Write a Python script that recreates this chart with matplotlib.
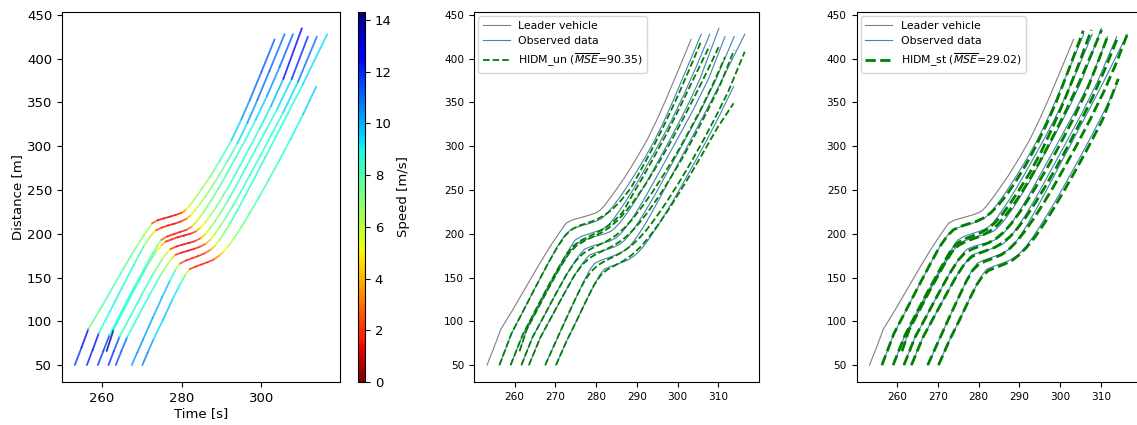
import numpy as np
import matplotlib
matplotlib.use('Agg')
import matplotlib.pyplot as plt
from matplotlib.collections import LineCollection
from matplotlib.colors import Normalize

# leader vehicle trajectory (time [s], distance [m])
leader_t = [253.2, 254.9, 256.6, 259.5, 262.5, 265.5, 268.5, 270.5, 271.7, 272.6, 274.0, 275.5, 277.0,
            278.5, 280.0, 281.0, 282.0, 283.3, 285.0, 287.1, 289.5, 292.5, 295.0, 297.1, 300.0, 303.3]
leader_d = [50, 70, 91, 113, 137, 161, 184, 198, 206, 212, 215.5, 217.5, 219.5,
            221.5, 224, 227, 232, 240, 251, 265, 283, 307, 331, 353, 385, 422]

# observed followers
obs_t = [
    [256.25, 257.7, 259.2, 262.0, 265.0, 268.0, 270.4, 272.2, 273.6, 275.0, 276.6, 278.2, 279.8,
     281.2, 282.2, 283.3, 284.6, 286.0, 287.6, 289.4, 291.5, 294.0, 296.5, 299.0, 302.0, 305.8],
    [259.0, 260.4, 261.9, 264.8, 267.8, 270.6, 272.8, 274.0, 274.9, 276.4, 278.0, 279.6, 281.2,
     282.5, 283.5, 284.6, 285.9, 287.4, 289.2, 291.2, 293.5, 296.0, 298.6, 301.4, 304.6, 307.9],
    [261.2, 262.9, 265.5, 268.4, 271.2, 273.6, 275.0, 276.0, 277.5, 279.0, 280.6, 282.2, 283.7,
     284.7, 285.9, 287.2, 288.7, 290.4, 292.4, 294.6, 297.0, 299.6, 302.4, 305.5, 310.15],
    [261.65, 263.0, 264.4, 267.2, 270.0, 272.8, 275.0, 276.3, 277.2, 278.7, 280.2, 281.8, 283.3,
     284.8, 285.9, 287.1, 288.4, 289.9, 291.6, 293.6, 295.9, 298.4, 301.1, 304.0, 307.6, 311.65],
    [263.5, 264.9, 266.3, 269.1, 271.9, 274.6, 276.6, 277.7, 278.5, 280.0, 281.5, 283.0, 284.5,
     286.0, 287.1, 288.3, 289.6, 291.1, 292.8, 294.8, 297.1, 299.7, 302.5, 305.5, 309.2, 313.9],
    [267.5, 268.9, 270.3, 272.7, 275.1, 277.0, 278.4, 279.6, 281.1, 282.6, 284.1, 285.7, 287.2,
     288.3, 289.5, 290.8, 292.3, 294.0, 296.0, 298.3, 300.9, 303.7, 306.7, 310.4, 316.5],
    [270.15, 271.5, 272.85, 275.3, 277.6, 279.5, 280.9, 282.0, 283.5, 285.0, 286.5, 288.0, 289.3,
     290.4, 291.7, 293.2, 295.0, 297.0, 299.3, 301.8, 304.5, 307.4, 310.5, 313.75],
]
obs_d = [
    [50, 67.5, 86, 111, 138, 164.5, 185, 197.5, 204, 207, 209.5, 211.5, 214,
     217, 221, 226.5, 234, 243, 254, 267, 283, 303.5, 327, 353, 386, 428],
    [50, 66.5, 84, 110, 136.5, 160, 178, 187, 193, 197, 199.5, 202, 204.5,
     208, 212.5, 219, 227.5, 238, 251.5, 267.5, 286.5, 307.5, 330.5, 357.5, 391, 428],
    [66, 90, 113, 138.5, 162, 180, 187, 191, 193.5, 196, 198, 200, 203,
     207, 213, 221, 231, 243.5, 259, 277.5, 298, 320.5, 346, 377, 434.8],
    [50, 66, 82, 106, 130.5, 154, 170, 178, 182.5, 185.5, 187.5, 189.5, 191.5,
     195, 199.5, 206, 214.5, 225, 238, 254.5, 274, 295, 318, 343, 377, 425.2],
    [50, 66, 81.5, 105.5, 129.5, 152, 166, 172.5, 176, 178.5, 180.5, 182.5, 185,
     188.5, 193, 199.5, 208, 218.5, 231.5, 247.5, 267, 289, 313, 339, 374, 425.2],
    [50, 64.5, 79, 103.5, 127.5, 146, 158.5, 166, 169.5, 172, 174.5, 177.5, 181.5,
     186, 193, 202, 213, 227, 244, 264, 287, 311.5, 338, 371, 428],
    [50, 64.5, 78.5, 101.5, 124, 141.5, 153, 159.5, 162.5, 165, 167.5, 170.5, 174.5,
     179, 186, 195.5, 208, 223, 241, 261.5, 284, 309, 337, 368.1],
]

# HIDM_un simulated followers
un_t = [
    [256.25, 259.2, 262.0, 265.0, 268.0, 270.5, 272.5, 274.2, 276.0, 278.0, 280.0, 282.0, 284.0,
     286.0, 288.5, 291.0, 294.0, 297.0, 300.0, 303.0, 305.8],
    [259.0, 261.9, 264.8, 267.8, 270.6, 272.8, 274.5, 276.5, 278.5, 280.5, 282.5, 284.5, 286.5,
     289.0, 291.5, 294.5, 297.5, 300.5, 303.5, 307.9],
    [261.2, 262.9, 265.5, 268.4, 271.2, 273.4, 275.2, 277.2, 279.2, 281.2, 283.2, 285.2, 287.2,
     289.7, 292.2, 295.2, 298.2, 301.2, 304.2, 307.2, 310.15],
    [261.65, 264.4, 267.2, 270.0, 272.8, 275.0, 276.8, 278.8, 280.8, 282.8, 284.8, 286.8, 288.8,
     291.3, 293.8, 296.8, 299.8, 302.8, 305.8, 308.8, 311.65],
    [263.5, 266.3, 269.1, 271.9, 274.6, 276.6, 278.3, 280.3, 282.3, 284.3, 286.3, 288.3, 290.3,
     292.8, 295.3, 298.3, 301.3, 304.3, 307.3, 310.3, 313.9],
    [267.5, 270.3, 272.7, 275.1, 277.0, 278.7, 280.4, 282.4, 284.4, 286.4, 288.4, 290.4, 292.4,
     294.9, 297.4, 300.4, 303.4, 306.4, 309.4, 312.4, 316.5],
    [270.15, 272.85, 275.3, 277.6, 279.5, 281.1, 282.7, 284.7, 286.7, 288.7, 290.7, 292.7, 295.2,
     297.7, 300.7, 303.7, 306.7, 309.7, 313.75],
]
un_d = [
    [50, 86, 111, 138, 164.5, 185, 198.5, 205.5, 209.5, 212.5, 216, 221, 228,
     237.5, 252, 273, 299, 327, 357, 389, 420],
    [50, 84, 110, 136.5, 160, 177, 186.5, 193, 197.5, 202, 207.5, 215, 224.5,
     245, 265, 290, 316, 344, 373, 415],
    [66, 90, 113, 138.5, 162, 178, 186.5, 192, 196.5, 201, 207, 215, 225,
     240, 257, 280, 304, 330, 357, 385, 414],
    [50, 82, 106, 130.5, 154, 169, 177.5, 183, 187.5, 192, 198, 206, 216,
     231, 247.5, 269, 292, 317, 343, 372, 402],
    [50, 81.5, 105.5, 129.5, 152, 164.5, 172, 177.5, 182, 186.5, 192.5, 200.5, 210.5,
     225.5, 242, 264, 287.5, 313, 340, 368.5, 410],
    [50, 79, 103.5, 127.5, 145, 156.5, 164, 169.5, 174, 179, 185.5, 194, 204.5,
     220, 237, 259, 282.5, 307.5, 334, 362, 408],
    [50, 78.5, 101.5, 124, 141.5, 152.5, 159, 164, 169, 175.5, 184, 194.5, 210,
     227, 249, 272, 296, 320.5, 349],
]

# HIDM_st simulated followers
st_t = [
    [256.25, 259.2, 262.0, 265.0, 268.0, 270.4, 272.3, 273.8, 275.6, 277.6, 279.6, 281.4, 283.0,
     284.8, 286.8, 289.0, 291.5, 294.0, 296.5, 299.0, 302.0, 305.7],
    [259.0, 261.9, 264.8, 267.8, 270.6, 272.8, 274.4, 276.2, 278.2, 280.2, 282.2, 284.0, 285.8,
     287.8, 290.0, 292.6, 295.4, 298.2, 301.0, 304.2, 307.7],
    [261.2, 262.9, 265.5, 268.4, 271.2, 273.4, 275.0, 276.8, 278.8, 280.8, 282.8, 284.6, 286.4,
     288.4, 290.6, 293.0, 295.8, 298.6, 301.6, 304.8, 307.6, 310.2],
    [261.65, 264.4, 267.2, 270.0, 272.8, 275.0, 276.6, 278.4, 280.4, 282.4, 284.4, 286.2, 288.0,
     290.0, 292.2, 294.7, 297.4, 300.2, 303.2, 306.4, 309.2, 311.8],
    [263.5, 266.3, 269.1, 271.9, 274.6, 276.6, 278.2, 280.0, 282.0, 284.0, 286.0, 287.8, 289.6,
     291.6, 293.8, 296.3, 299.0, 301.8, 304.8, 308.0, 311.2, 314.3],
    [267.5, 270.3, 272.7, 275.1, 277.0, 278.5, 279.9, 281.6, 283.6, 285.6, 287.4, 289.2, 291.2,
     293.4, 295.9, 298.6, 301.4, 304.4, 307.6, 310.8, 313.8, 316.6],
    [270.15, 272.85, 275.3, 277.6, 279.5, 281.0, 282.4, 284.2, 286.2, 288.2, 290.0, 291.8, 293.8,
     296.0, 298.5, 301.2, 304.0, 307.0, 310.5, 314.3],
]
st_d = [
    [50, 86, 111, 138, 164.5, 185, 197.5, 204.5, 208.5, 211.5, 214.5, 218.5, 224,
     232.5, 244, 259, 278, 299.5, 323.5, 350, 386, 432],
    [50, 84, 110, 136.5, 160, 178, 188, 193.5, 197, 200.5, 205.5, 212.5, 222,
     235, 250.5, 270, 294, 322, 352, 389, 433],
    [66, 90, 113, 138.5, 162, 179, 186.5, 191, 194.5, 198, 203, 210, 219.5,
     232, 247.5, 266, 289, 314, 342, 374, 404, 433],
    [50, 82, 106, 130.5, 154, 170, 178, 182.5, 186, 189.5, 195, 202, 211.5,
     224, 239.5, 258.5, 280, 304, 331, 362, 395, 427],
    [50, 81.5, 105.5, 129.5, 152, 166, 173.5, 177.5, 181, 184.5, 190, 197, 206.5,
     219, 234.5, 253.5, 275, 299, 326, 356, 390, 426],
    [50, 79, 103.5, 127.5, 146, 158, 164.5, 168.5, 172, 176, 182, 190.5, 202,
     216.5, 234.5, 255.5, 278.5, 304, 332.5, 363, 395, 429],
    [50, 78.5, 101.5, 124, 141.5, 152, 158, 161.5, 165, 169.5, 176, 184.5, 196,
     211, 229.5, 251, 274, 299.5, 331, 377],
]

mse_un = 90.35
mse_st = 29.02

W, H = 1137, 425
fig = plt.figure(figsize=(W / 100, H / 100), dpi=100)

y0, hgt = 43 / H, 370 / H
ax1 = fig.add_axes([62 / W, y0, 278 / W, hgt])
cax = fig.add_axes([358 / W, y0, 7 / W, hgt])
ax2 = fig.add_axes([474 / W, y0, 285 / W, hgt])
ax3 = fig.add_axes([856.5 / W, y0, 285 / W, hgt])

# ---- left: speed coloured trajectories
norm = Normalize(0, 14.3)
for t, d in [(leader_t, leader_d)] + list(zip(obs_t, obs_d)):
    t = np.array(t)
    d = np.array(d)
    pts = np.column_stack([t, d]).reshape(-1, 1, 2)
    segs = np.concatenate([pts[:-1], pts[1:]], axis=1)
    v = np.diff(d) / np.diff(t)
    lc = LineCollection(segs, cmap='jet_r', norm=norm, linewidths=1.3,
                        alpha=0.8, capstyle='round')
    lc.set_array(v)
    ax1.add_collection(lc)

ax1.set_xlim(250.0, 319.7)
ax1.set_ylim(30.6, 453.4)
ax1.set_xticks([260, 280, 300])
ax1.set_yticks(np.arange(50, 451, 50))
ax1.tick_params(labelsize=9.5)
ax1.set_xlabel('Time [s]', fontsize=9.5, labelpad=2)
ax1.set_ylabel('Distance [m]', fontsize=9.5, labelpad=2)

sm = plt.cm.ScalarMappable(norm=norm, cmap='jet_r')
cb = fig.colorbar(sm, cax=cax)
cb.set_ticks(np.arange(0, 15, 2))
cb.ax.tick_params(labelsize=9.5)
cb.set_label('Speed [m/s]', fontsize=9.5)
cb.outline.set_linewidth(0.8)


def model_panel(ax, sim_t, sim_d, label, lw):
    ax.plot(leader_t, leader_d, color='grey', lw=0.8, label='Leader vehicle')
    for i, (t, d) in enumerate(zip(obs_t, obs_d)):
        ax.plot(t, d, color='steelblue', lw=0.8, label='Observed data' if i == 0 else None)
    for i, (t, d) in enumerate(zip(sim_t, sim_d)):
        ax.plot(t, d, color='green', ls='--', lw=lw, label=label if i == 0 else None)
    ax.set_xlim(250.0, 320.0)
    ax.set_ylim(30.6, 453.4)
    ax.set_xticks(np.arange(260, 311, 10))
    ax.set_yticks(np.arange(50, 451, 50))
    ax.tick_params(labelsize=7.6)
    ax.legend(loc='upper left', fontsize=7.8, handlelength=2.5, borderaxespad=0.4)


model_panel(ax2, un_t, un_d, r'HIDM_un ($\overline{MSE}$=%.2f)' % mse_un, 1.3)
model_panel(ax3, st_t, st_d, r'HIDM_st ($\overline{MSE}$=%.2f)' % mse_st, 2.0)

fig.savefig('out.png', dpi=100)
